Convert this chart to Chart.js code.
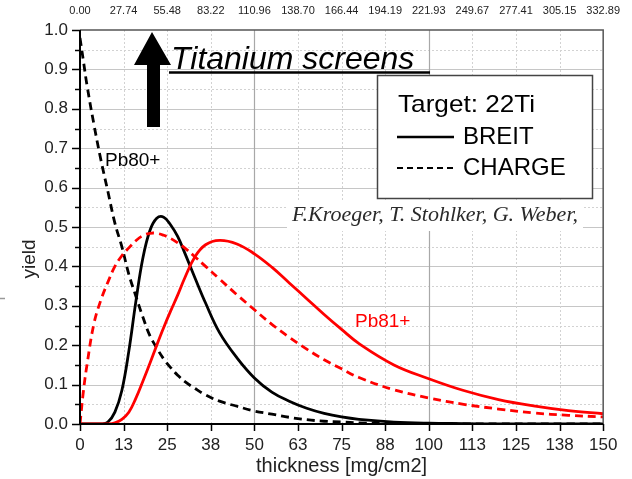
<!DOCTYPE html>
<html>
<head>
<meta charset="utf-8">
<script src="https://cdn.jsdelivr.net/npm/chart.js@4.4.0/dist/chart.umd.min.js"></script>
<style>
  html, body { margin: 0; padding: 0; background: #fff; }
  #wrap { width: 632px; height: 479px; }
</style>
</head>
<body>
<div id="wrap"><canvas id="yieldChart" width="632" height="479"></canvas></div>
<script>
// thickness in mg/cm2
const thickness  = [0, 1, 2, 4, 6, 8, 10, 12, 14, 16, 18, 20, 22, 24, 26, 28, 30, 33, 36, 40, 45, 50, 55, 60, 65, 70, 75, 80, 90, 100, 110, 120, 130, 140, 150];
// Pb80+ (black)
const breitPb80  = [0, 0, 0, 0, 0, 0.005, 0.03, 0.085, 0.185, 0.31, 0.42, 0.49, 0.522, 0.525, 0.505, 0.476, 0.435, 0.37, 0.307, 0.232, 0.168, 0.117, 0.081, 0.058, 0.04, 0.027, 0.018, 0.012, 0.005, 0.002, 0.001, 0, 0, 0, 0];
const chargePb80 = [0.98, 0.92, 0.86, 0.76, 0.67, 0.59, 0.51, 0.45, 0.38, 0.325, 0.272, 0.225, 0.193, 0.165, 0.143, 0.124, 0.108, 0.09, 0.074, 0.058, 0.045, 0.033, 0.025, 0.017, 0.011, 0.007, 0.005, 0.003, 0.001, 0, 0, 0, 0, 0, 0];
// Pb81+ (red)
const breitPb81  = [0, 0, 0, 0, 0, 0, 0.003, 0.012, 0.03, 0.065, 0.108, 0.153, 0.2, 0.245, 0.287, 0.327, 0.37, 0.425, 0.455, 0.466, 0.457, 0.432, 0.398, 0.358, 0.318, 0.278, 0.24, 0.204, 0.15, 0.115, 0.085, 0.062, 0.046, 0.034, 0.026];
const chargePb81 = [0, 0.085, 0.15, 0.255, 0.315, 0.36, 0.40, 0.427, 0.447, 0.465, 0.478, 0.484, 0.484, 0.479, 0.471, 0.46, 0.447, 0.424, 0.40, 0.368, 0.328, 0.29, 0.253, 0.22, 0.19, 0.163, 0.14, 0.118, 0.087, 0.066, 0.05, 0.038, 0.028, 0.022, 0.018];

const bottomTickLabels = ['0', '13', '25', '38', '50', '63', '75', '88', '100', '113', '125', '138', '150'];
const topTickLabels = ['0.00', '27.74', '55.48', '83.22', '110.96', '138.70', '166.44', '194.19', '221.93', '249.67', '277.41', '305.15', '332.89'];
const yTickLabels = ['0.0', '0.1', '0.2', '0.3', '0.4', '0.5', '0.6', '0.7', '0.8', '0.9', '1.0'];

const X_MAX = 150;
const SANS = "'Liberation Sans', Arial, sans-serif";

function pts(ys) {
    return thickness.map((x, i) => ({ x: x, y: ys[i] }));
}

function xTicks(scale) {
    const n = bottomTickLabels.length - 1;
    scale.ticks = bottomTickLabels.map((l, i) => ({ value: i * X_MAX / n }));
}

const decor = {
    id: 'decor',
    beforeDatasetsDraw(chart) {
        const { ctx, chartArea: a, scales: { x, y } } = chart;
        ctx.save();
        // horizontal grid: solid every 0.1, dotted at 0.05
        for (let k = 1; k < 20; k++) {
            const py = Math.round(y.getPixelForValue(k * 0.05)) + 0.5;
            ctx.beginPath();
            if (k % 2 === 0) {
                ctx.setLineDash([]);
                ctx.strokeStyle = '#c6c6c6';
                ctx.lineWidth = 1.2;
            } else {
                ctx.setLineDash([2, 2]);
                ctx.strokeStyle = '#d2d2d2';
                ctx.lineWidth = 1;
            }
            ctx.moveTo(a.left, py);
            ctx.lineTo(a.right, py);
            ctx.stroke();
        }
        // vertical grid: solid at 50s, dotted at the other ticks
        const n = bottomTickLabels.length - 1;
        for (let i = 1; i < n; i++) {
            const v = i * X_MAX / n;
            const px = Math.round(x.getPixelForValue(v)) + 0.5;
            ctx.beginPath();
            if (v % 50 === 0) {
                ctx.setLineDash([]);
                ctx.strokeStyle = '#a8a8a8';
                ctx.lineWidth = 1.2;
            } else {
                ctx.setLineDash([2, 2]);
                ctx.strokeStyle = '#d2d2d2';
                ctx.lineWidth = 1;
            }
            ctx.moveTo(px, a.top);
            ctx.lineTo(px, a.bottom);
            ctx.stroke();
        }
        ctx.setLineDash([]);
        // white patch behind the author line
        ctx.fillStyle = '#fff';
        ctx.fillRect(287, 200, 296, 31);
        ctx.restore();
    },
    afterDatasetsDraw(chart) {
        const { ctx, chartArea: a, scales: { x, y } } = chart;
        ctx.save();
        // frame
        ctx.strokeStyle = '#555';
        ctx.lineWidth = 1.5;
        ctx.beginPath();
        ctx.moveTo(a.left, a.top);
        ctx.lineTo(a.right, a.top);
        ctx.lineTo(a.right, a.bottom);
        ctx.stroke();
        ctx.strokeStyle = '#000';
        ctx.lineWidth = 2;
        ctx.beginPath();
        ctx.moveTo(a.left, a.top);
        ctx.lineTo(a.left, a.bottom);
        ctx.lineTo(a.right, a.bottom);
        ctx.stroke();
        // y ticks
        ctx.lineWidth = 1.5;
        for (let k = 0; k <= 20; k++) {
            const py = Math.round(y.getPixelForValue(k * 0.05)) + 0.5;
            const len = k % 2 === 0 ? 8 : 5;
            ctx.beginPath();
            ctx.moveTo(a.left - len, py);
            ctx.lineTo(a.left, py);
            ctx.stroke();
        }
        // x ticks
        const n = bottomTickLabels.length - 1;
        for (let i = 0; i <= n; i++) {
            const px = Math.round(x.getPixelForValue(i * X_MAX / n)) + 0.5;
            ctx.beginPath();
            ctx.moveTo(px, a.bottom);
            ctx.lineTo(px, a.bottom + 7);
            ctx.stroke();
        }

        // y axis title
        ctx.save();
        ctx.translate(30, 259);
        ctx.rotate(-Math.PI / 2);
        ctx.fillStyle = '#222';
        ctx.font = '19px ' + SANS;
        ctx.textAlign = 'center';
        ctx.textBaseline = 'middle';
        ctx.fillText('yield', 0, 0);
        ctx.restore();
        // small stray mark at the left edge
        ctx.strokeStyle = '#999';
        ctx.lineWidth = 1.5;
        ctx.beginPath();
        ctx.moveTo(0, 298.5);
        ctx.lineTo(5, 298.5);
        ctx.stroke();

        // arrow
        ctx.fillStyle = '#000';
        ctx.beginPath();
        ctx.moveTo(152, 32);
        ctx.lineTo(171, 65);
        ctx.lineTo(160, 65);
        ctx.lineTo(160, 127);
        ctx.lineTo(147, 127);
        ctx.lineTo(147, 65);
        ctx.lineTo(134, 65);
        ctx.closePath();
        ctx.fill();
        // Titanium screens
        ctx.font = 'italic 32px ' + SANS;
        ctx.textAlign = 'left';
        ctx.textBaseline = 'alphabetic';
        ctx.fillText('Titanium screens', 171, 69);
        ctx.strokeStyle = '#000';
        ctx.lineWidth = 2.5;
        ctx.beginPath();
        ctx.moveTo(169, 72.5);
        ctx.lineTo(430, 72.5);
        ctx.stroke();

        // legend box
        ctx.fillStyle = '#fff';
        ctx.fillRect(377, 75, 215, 123);
        ctx.strokeStyle = '#444';
        ctx.lineWidth = 1.5;
        ctx.strokeRect(377.5, 75.5, 215, 123);
        ctx.fillStyle = '#000';
        ctx.font = '24px ' + SANS;
        ctx.textBaseline = 'middle';
        ctx.save();
        ctx.translate(398, 105);
        ctx.scale(1.09, 1);
        ctx.fillText('Target: 22Ti', 0, 0);
        ctx.restore();
        ctx.fillText('BREIT', 463, 137);
        ctx.fillText('CHARGE', 463, 168);
        ctx.strokeStyle = '#000';
        ctx.lineWidth = 2.5;
        ctx.beginPath();
        ctx.moveTo(397, 137);
        ctx.lineTo(454, 137);
        ctx.stroke();
        ctx.lineWidth = 2;
        ctx.setLineDash([6, 4]);
        ctx.beginPath();
        ctx.moveTo(397, 168);
        ctx.lineTo(456, 168);
        ctx.stroke();
        ctx.setLineDash([]);

        // curve labels
        ctx.font = '19px ' + SANS;
        ctx.fillStyle = '#000';
        ctx.fillText('Pb80+', 105, 161);
        ctx.fillStyle = '#ff0000';
        ctx.fillText('Pb81+', 355, 322);

        // author line
        ctx.fillStyle = '#2a2a2a';
        ctx.font = "italic 22px 'Liberation Serif', 'Times New Roman', serif";
        ctx.fillText('F.Kroeger, T. Stohlker, G. Weber,', 292, 215);
        ctx.restore();
    }
};

const lineBase = {
    pointRadius: 0,
    fill: false,
    tension: 0.4,
    borderCapStyle: 'butt'
};

new Chart(document.getElementById('yieldChart').getContext('2d'), {
    type: 'line',
    data: {
        datasets: [
            Object.assign({ label: 'Pb81+ CHARGE', data: pts(chargePb81), borderColor: '#ff0000', borderWidth: 2.8, borderDash: [8, 5] }, lineBase),
            Object.assign({ label: 'Pb81+ BREIT', data: pts(breitPb81), borderColor: '#ff0000', borderWidth: 2.8 }, lineBase),
            Object.assign({ label: 'Pb80+ CHARGE', data: pts(chargePb80), borderColor: '#000000', borderWidth: 2.8, borderDash: [8, 5] }, lineBase),
            Object.assign({ label: 'Pb80+ BREIT', data: pts(breitPb80), borderColor: '#000000', borderWidth: 2.8 }, lineBase)
        ]
    },
    options: {
        responsive: false,
        animation: false,
        layout: { padding: { left: 0, right: 25, top: 0, bottom: 0 } },
        plugins: { legend: { display: false }, tooltip: { enabled: false } },
        scales: {
            x: {
                type: 'linear', position: 'bottom', min: 0, max: X_MAX,
                afterBuildTicks: xTicks,
                afterFit: s => { s.height = 55; },
                grid: { display: false, drawTicks: false },
                border: { display: false },
                ticks: {
                    autoSkip: false, maxRotation: 0, padding: 11, color: '#222',
                    font: { family: SANS, size: 17 },
                    callback: (v, i) => bottomTickLabels[i]
                },
                title: {
                    display: true, text: 'thickness [mg/cm2]', color: '#222',
                    font: { family: SANS, size: 20 }, padding: { top: 0, bottom: 1 }
                }
            },
            x2: {
                type: 'linear', position: 'top', min: 0, max: X_MAX,
                afterBuildTicks: xTicks,
                afterFit: s => { s.height = 30; },
                grid: { display: false, drawTicks: false },
                border: { display: false },
                ticks: {
                    autoSkip: false, maxRotation: 0, padding: 12, color: '#222',
                    font: { family: SANS, size: 11 },
                    callback: (v, i) => topTickLabels[i]
                }
            },
            y: {
                min: 0, max: 1,
                afterBuildTicks: s => { s.ticks = yTickLabels.map((l, i) => ({ value: i / 10 })); },
                afterFit: s => { s.width = 80; },
                grid: { display: false, drawTicks: false },
                border: { display: false },
                ticks: {
                    padding: 12, color: '#222',
                    font: { family: SANS, size: 17 },
                    callback: (v, i) => yTickLabels[i]
                }
            }
        }
    },
    plugins: [decor]
});
</script>
</body>
</html>
